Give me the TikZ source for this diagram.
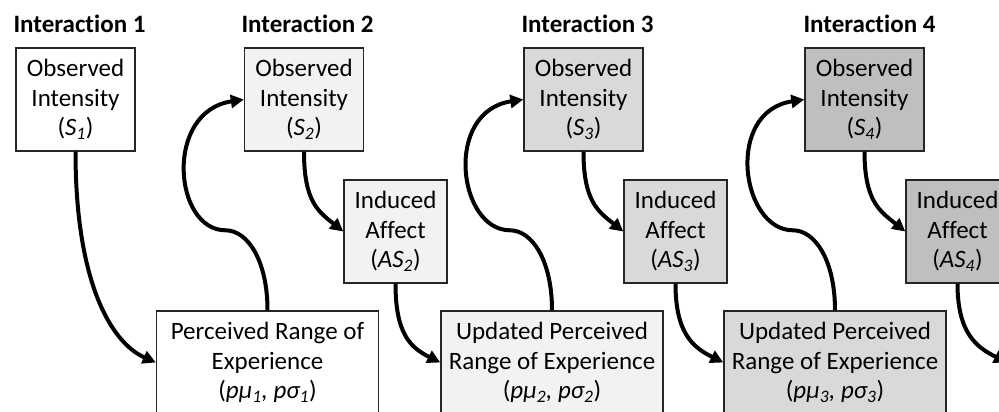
\documentclass[tikz,border=0pt]{standalone}
\usepackage{fontspec}
\setmainfont{Carlito}[Ligatures={NoCommon}]
\usetikzlibrary{arrows.meta,calc}
\definecolor{shadeA}{HTML}{F2F2F2}
\definecolor{shadeB}{HTML}{D9D9D9}
\definecolor{shadeC}{HTML}{BFBFBF}
\newcommand{\sub}[2]{\textit{#1\textsubscript{#2}}}
\begin{document}
\begin{tikzpicture}[x=1pt,y=1pt,
  every node/.style={font=\fontsize{25}{29.5}\selectfont},
  box/.style={draw=black!85, line width=1.4pt, align=center, inner sep=0pt,
    minimum height=103pt},
  obs/.style={box, minimum width=119pt},
  ind/.style={box, minimum width=103pt},
  rng/.style={box, minimum width=222pt},
  title/.style={anchor=base west, font=\fontsize{25}{29.5}\selectfont\bfseries},
  flow/.style={line width=4pt, -{Triangle[length=13pt,width=13pt]}},
]
\useasboundingbox (0,0) rectangle (999,-412);
\clip (0,0) rectangle (999,-412);

% column headings
\node[title] (t1) at (10,-33)  {Interaction 1};
\node[title] (t2) at (238,-33) {Interaction 2};
\node[title] (t3) at (518,-33) {Interaction 3};
\node[title] (t4) at (800,-33) {Interaction 4};

% observed intensities
\node[obs, fill=white]  (S1) at (75.5,-99.5)  {Observed\\Intensity\\(\sub{S}{1})};
\node[obs, fill=shadeA] (S2) at (304,-99.5)   {Observed\\Intensity\\(\sub{S}{2})};
\node[obs, fill=shadeB] (S3) at (583.5,-99.5) {Observed\\Intensity\\(\sub{S}{3})};
\node[obs, fill=shadeC] (S4) at (864.5,-99.5) {Observed\\Intensity\\(\sub{S}{4})};

% induced affect
\node[ind, fill=shadeA] (I2) at (395.5,-231.5) {Induced\\Affect\\(\sub{AS}{2})};
\node[ind, fill=shadeB] (I3) at (675.5,-231.5) {Induced\\Affect\\(\sub{AS}{3})};
\node[ind, fill=shadeC] (I4) at (957.5,-231.5) {Induced\\Affect\\(\sub{AS}{4})};

% ranges of experience
\node[rng, fill=white]  (P1) at (267.5,-362.5) {Perceived Range of\\Experience\\(\sub{pμ}{1}\textit{, }\sub{pσ}{1})};
\node[rng, fill=shadeA] (U2) at (552,-362.5) {Updated Perceived\\Range of Experience\\(\sub{pμ}{2}\textit{, }\sub{pσ}{2})};
\node[rng, fill=shadeB] (U3) at (835,-362.5) {Updated Perceived\\Range of Experience\\(\sub{pμ}{3}\textit{, }\sub{pσ}{3})};

% bends of the feedback loops and the outgoing end
\coordinate (w1) at ($(P1.north)+(-42,80)$);
\coordinate (w2) at ($(U2.north)+(-42,80)$);
\coordinate (w3) at ($(U3.north)+(-42,80)$);
\coordinate (next) at (1007,-362.5);

% observed intensity -> range of experience
\draw[flow] (S1.south) .. controls +(0,-130) and +(-45,20) .. (P1.west);

% range of experience -> next observed intensity
\draw[flow] (P1.north) .. controls +(0,50) and +(22,0) .. (w1)
  .. controls +(-52,0) and +(-80,-12) .. (S2.west);
\draw[flow] (U2.north) .. controls +(0,50) and +(22,0) .. (w2)
  .. controls +(-52,0) and +(-80,-12) .. (S3.west);
\draw[flow] (U3.north) .. controls +(0,50) and +(22,0) .. (w3)
  .. controls +(-52,0) and +(-80,-12) .. (S4.west);

% observed intensity -> induced affect
\draw[flow] (S2.south) .. controls +(0,-50) and +(-25,20) .. (I2.west);
\draw[flow] (S3.south) .. controls +(0,-50) and +(-25,20) .. (I3.west);
\draw[flow] (S4.south) .. controls +(0,-50) and +(-25,20) .. (I4.west);

% induced affect -> updated range of experience
\draw[flow] (I2.south) .. controls +(0,-50) and +(-30,15) .. (U2.west);
\draw[flow] (I3.south) .. controls +(0,-50) and +(-30,15) .. (U3.west);
\draw[flow] (I4.south) .. controls +(0,-50) and +(-30,15) .. (next);
\end{tikzpicture}
\end{document}
